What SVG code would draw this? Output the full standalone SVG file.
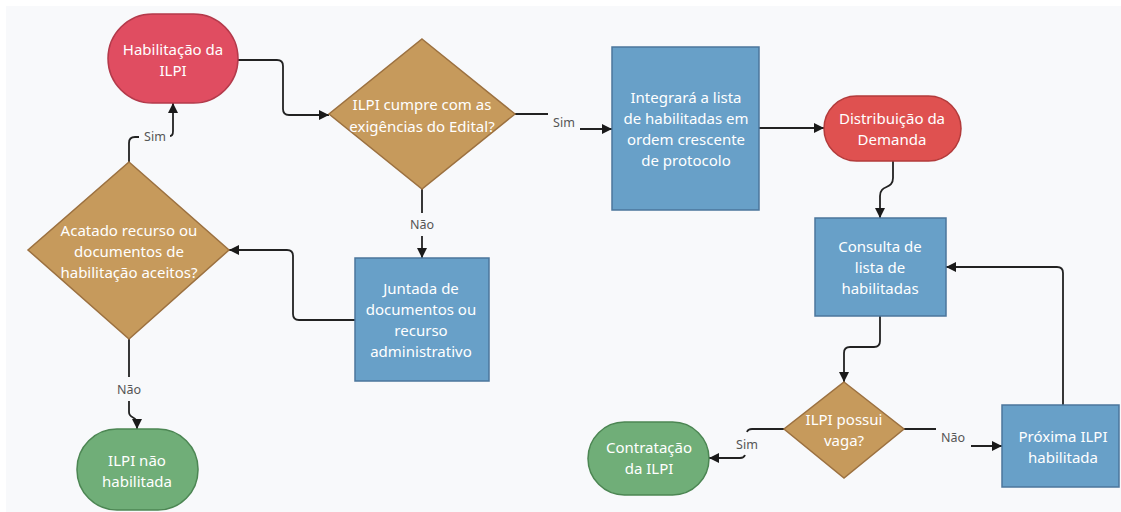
<svg xmlns="http://www.w3.org/2000/svg" width="1121" height="512" viewBox="0 0 1121 512">
<style>
.t{font-family:"Noto Sans","Open Sans","Liberation Sans",sans-serif;font-size:15px;fill:#ffffff;text-anchor:middle}
.l{font-family:"Noto Sans","Open Sans","Liberation Sans",sans-serif;font-size:12.5px;fill:#555555;text-anchor:middle}
.box{fill:#68a0c8;stroke:#4b769c;stroke-width:1.5}
.dia{fill:#c69a5c;stroke:#9c7140;stroke-width:1.5}
.grn{fill:#70ae78;stroke:#4c8653;stroke-width:1.5}
.c{fill:none;stroke:#222222;stroke-width:1.8}
</style>
<defs>
<marker id="ah" markerUnits="userSpaceOnUse" markerWidth="11" markerHeight="11" refX="10" refY="5" orient="auto">
<path d="M0,0 L10,5 L0,10 z" fill="#1a1a1a"/>
</marker>
</defs>
<rect x="0" y="0" width="1121" height="512" fill="#ffffff"/>
<rect x="6" y="6" width="1115" height="506" fill="#f8f9fb"/>

<g id="connectors">
<path class="c" d="M238,60 H277 Q283,60 283,66 V109 Q283,115 289,115 H329" marker-end="url(#ah)"/>
<path class="c" d="M515,114 H548 M580,129 H612" marker-end="url(#ah)"/>
<path class="c" d="M759,128 H824" marker-end="url(#ah)"/>
<path class="c" d="M893,161 V178 C893,190 880,184 880,196 V218" marker-end="url(#ah)"/>
<path class="c" d="M880,316 V341 Q880,347 874,347 H850 Q844,347 844,353 V382" marker-end="url(#ah)"/>
<path class="c" d="M904,429 H936 M971,446 H1002" marker-end="url(#ah)"/>
<path class="c" d="M784,429 H752 Q748,429 747,432 M745,455 Q744,458 740,458 H709" marker-end="url(#ah)"/>
<path class="c" d="M1063,405 V273 Q1063,267 1057,267 H946" marker-end="url(#ah)"/>
<path class="c" d="M422,189 V213 M422,236 V258" marker-end="url(#ah)"/>
<path class="c" d="M355,320 H299 Q293,320 293,314 V256 Q293,250 287,250 H229" marker-end="url(#ah)"/>
<path class="c" d="M129,162 V143 Q129,137 135,137 H139 M170,136 Q173,136 173,131 V103" marker-end="url(#ah)"/>
<path class="c" d="M129,339 V377 M129,401 V412 C129,419 137,416 137,423 V429" marker-end="url(#ah)"/>
<text class="l" x="564" y="127">Sim</text>
<text class="l" x="422" y="229">Não</text>
<text class="l" x="155" y="141">Sim</text>
<text class="l" x="129" y="394">Não</text>
<text class="l" x="747" y="449">Sim</text>
<text class="l" x="953" y="442">Não</text>
</g>

<g id="n-habilitacao">
<rect x="108" y="14" width="130" height="89" rx="44.5" ry="44.5" fill="#e04d61" stroke="#b43a4b" stroke-width="1.5"/>
<text class="t" x="173" y="55">Habilitação da</text>
<text class="t" x="173" y="76">ILPI</text>
</g>

<g id="n-cumpre">
<polygon class="dia" points="422,39 515,114 422,189 329,114"/>
<text class="t" x="422" y="110">ILPI cumpre com as</text>
<text class="t" x="422" y="132">exigências do Edital?</text>
</g>

<g id="n-integrara">
<rect class="box" x="612" y="47" width="147" height="163"/>
<text class="t" x="686" y="103">Integrará a lista</text>
<text class="t" x="686" y="124">de habilitadas em</text>
<text class="t" x="686" y="145">ordem crescente</text>
<text class="t" x="686" y="166">de protocolo</text>
</g>

<g id="n-distribuicao">
<rect x="824" y="96" width="137" height="65" rx="32.5" ry="32.5" fill="#df5150" stroke="#b33b3b" stroke-width="1.5"/>
<text class="t" x="892" y="124">Distribuição da</text>
<text class="t" x="892" y="145">Demanda</text>
</g>

<g id="n-acatado">
<polygon class="dia" points="129,162 229,250 129,339 28,250"/>
<text class="t" x="129" y="236">Acatado recurso ou</text>
<text class="t" x="129" y="257">documentos de</text>
<text class="t" x="129" y="278">habilitação aceitos?</text>
</g>

<g id="n-juntada">
<rect class="box" x="355" y="258" width="134" height="123"/>
<text class="t" x="421" y="294">Juntada de</text>
<text class="t" x="421" y="315">documentos ou</text>
<text class="t" x="421" y="336">recurso</text>
<text class="t" x="421" y="357">administrativo</text>
</g>

<g id="n-nao-habilitada">
<rect class="grn" x="77" y="429" width="121" height="81" rx="40" ry="40"/>
<text class="t" x="137" y="466">ILPI não</text>
<text class="t" x="137" y="487">habilitada</text>
</g>

<g id="n-consulta">
<rect class="box" x="815" y="218" width="131" height="98"/>
<text class="t" x="880" y="252">Consulta de</text>
<text class="t" x="880" y="273">lista de</text>
<text class="t" x="880" y="294">habilitadas</text>
</g>

<g id="n-vaga">
<polygon class="dia" points="844,382 904,429 844,478 784,429"/>
<text class="t" x="844" y="425">ILPI possui</text>
<text class="t" x="844" y="446">vaga?</text>
</g>

<g id="n-contratacao">
<rect class="grn" x="588" y="422" width="121" height="73" rx="36.5" ry="36.5"/>
<text class="t" x="649" y="453">Contratação</text>
<text class="t" x="649" y="474">da ILPI</text>
</g>

<g id="n-proxima">
<rect class="box" x="1002" y="405" width="117" height="82"/>
<text class="t" x="1063" y="442">Próxima ILPI</text>
<text class="t" x="1063" y="463">habilitada</text>
</g>
</svg>
